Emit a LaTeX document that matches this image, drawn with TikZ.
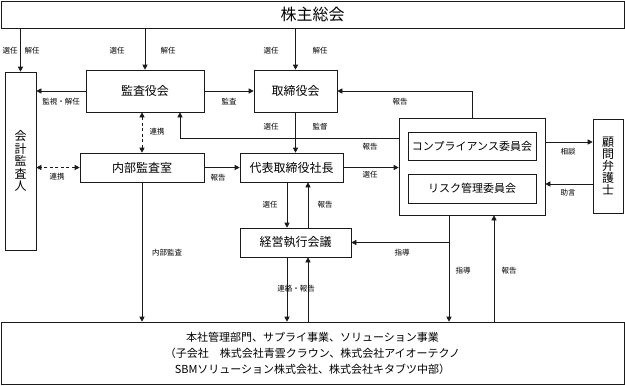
\documentclass[tikz,border=0pt]{standalone}
\usepackage{fontspec}
\setmainfont{Noto Sans CJK JP}
\usepackage{tikz}
\usetikzlibrary{arrows.meta, calc}
\definecolor{cLine}{HTML}{1A1A1A}

\begin{document}
\begin{tikzpicture}[x=1pt, y=-1pt,
    box/.style={draw=cLine, line width=0.6pt, inner sep=0pt, align=center,
                font=\fontsize{12}{14}\selectfont},
    lbl/.style={inner sep=0pt, font=\fontsize{7.5}{9}\selectfont},
    link/.style={draw=cLine, line width=0.6pt},
    arr/.style={link, -{Triangle[length=5pt, width=5pt]}},
    both/.style={link, dash pattern=on 3pt off 2.5pt,
                 {Triangle[length=5pt, width=5pt]}-{Triangle[length=5pt, width=5pt]}}]
  \useasboundingbox (0,0) rectangle (625,386);

  % Shareholders meeting
  \node[box, minimum width=623pt, minimum height=27pt,
        font=\fontsize{16}{18}\selectfont] (soukai) at (312.5,14.5) {株主総会};
  % Accounting auditor (vertical text)
  \node[box, minimum width=31pt, minimum height=178pt,
        font=\fontsize{12}{12.5}\selectfont] (kaikei) at (20.5,161) {会\\計\\監\\査\\人};
  % Boards
  \node[box, minimum width=118pt, minimum height=42pt] (kansa) at (145,91) {監査役会};
  \node[box, minimum width=83pt, minimum height=42pt] (torishimari) at (295.5,91) {取締役会};
  \node[box, minimum width=124pt, minimum height=29pt] (naibu) at (142,167.5) {内部監査室};
  \node[box, minimum width=103pt, minimum height=29pt] (daihyo) at (291.5,167.5) {代表取締役社長};
  \node[box, minimum width=111pt, minimum height=29pt] (keiei) at (295.5,242.5) {経営執行会議};
  % Committees
  \node[box, minimum width=146pt, minimum height=97pt] (iinkai) at (472,166.5) {};
  \node[box, minimum width=128pt, minimum height=28pt,
        font=\fontsize{11}{13}\selectfont] (comp) at (472,146) {コンプライアンス委員会};
  \node[box, minimum width=128pt, minimum height=29pt,
        font=\fontsize{11}{13}\selectfont] (risk) at (472,188.5) {リスク管理委員会};
  % Legal advisor (vertical text)
  \node[box, minimum width=30pt, minimum height=94pt,
        font=\fontsize{12}{12}\selectfont] (komon) at (608,166) {顧\\問\\弁\\護\\士};
  % Business units
  \node[box, minimum width=623pt, minimum height=62pt,
        font=\fontsize{11}{16}\selectfont] (jigyo) at (312.5,353)
       {本社管理部門、サプライ事業、ソリューション事業\\
        （子会社　株式会社青雲クラウン、株式会社アイオーテクノ\\
        SBMソリューション株式会社、株式会社キタブツ中部）};

  % Connectors from the top
  \draw[arr] (soukai.south -| kaikei.north) -- (kaikei.north);
  \draw[arr] (soukai.south -| kansa.north) -- (kansa.north);
  \draw[arr] (soukai.south -| torishimari.north) -- (torishimari.north);
  \draw[arr] (kansa.west) -- (kansa.west -| kaikei.east);
  \draw[arr] (kansa.east) -- (torishimari.west);
  \draw[arr] (iinkai.north) |- (torishimari.east);
  \draw[arr] ([yshift=28.5pt]iinkai.west) -| ([xshift=35pt]kansa.south);
  \draw[arr] (torishimari.south) -- (torishimari.south |- daihyo.north);
  % Middle row
  \draw[both] (naibu.north |- kansa.south) -- (naibu.north);
  \draw[both] (naibu.west) -- (naibu.west -| kaikei.east);
  \draw[arr] (naibu.east) -- (daihyo.west);
  \draw[arr] (daihyo.east) -- (daihyo.east -| iinkai.west);
  \draw[arr] ([yshift=24.5pt]iinkai.east) -- ([yshift=24.5pt]iinkai.east -| komon.west);
  \draw[arr] ([yshift=-17.5pt]iinkai.east -| komon.west) -- ([yshift=-17.5pt]iinkai.east);
  % Executive meeting
  \draw[arr] ([xshift=-4.5pt]daihyo.south) -- ([xshift=-4.5pt]daihyo.south |- keiei.north);
  \draw[arr] ([xshift=12.5pt]keiei.north) -- ([xshift=12.5pt]keiei.north |- daihyo.south);
  \draw[arr] ([xshift=-23pt]iinkai.south) |- (keiei.east);
  % Down to business units
  \draw[arr] (naibu.south) -- (naibu.south |- jigyo.north);
  \draw[arr] ([xshift=-8.5pt]keiei.south) -- ([xshift=-8.5pt]keiei.south |- jigyo.north);
  \draw[arr] ([xshift=12.5pt]keiei.south |- jigyo.north) -- ([xshift=12.5pt]keiei.south);
  \draw[arr] ([xshift=-23pt]iinkai.south) -- ([xshift=-23pt]iinkai.south |- jigyo.north);
  \draw[arr] ([xshift=22pt]iinkai.south |- jigyo.north) -- ([xshift=22pt]iinkai.south);

  % Labels
  \node[lbl] (lSenKai) at (10,51) {選任};
  \node[lbl] (lKaiKai) at (32,51) {解任};
  \node[lbl] (lSenKan) at (117,51) {選任};
  \node[lbl] (lKaiKan) at (168,51) {解任};
  \node[lbl] (lSenTor) at (271,51) {選任};
  \node[lbl] (lKaiTor) at (320,51) {解任};
  \node[lbl] (lKanshi) at (61,102) {監視・解任};
  \node[lbl] (lKansa) at (229,102) {監査};
  \node[lbl] (lHouTor) at (400,102) {報告};
  \node[lbl] (lRenKan) at (157,132) {連携};
  \node[lbl] (lSenDai) at (271,127) {選任};
  \node[lbl] (lKantoku) at (320,127) {監督};
  \node[lbl] (lHouKan) at (370,147) {報告};
  \node[lbl] (lRenKai) at (57,177) {連携};
  \node[lbl] (lHouNai) at (218,178) {報告};
  \node[lbl] (lSenIin) at (370,175) {選任};
  \node[lbl] (lSoudan) at (568,152) {相談};
  \node[lbl] (lJogen) at (568,193) {助言};
  \node[lbl] (lSenKei) at (270,205) {選任};
  \node[lbl] (lHouKei) at (325,205) {報告};
  \node[lbl] (lShidoA) at (402,253) {指導};
  \node[lbl] (lNaibu) at (167,253) {内部監査};
  \node[lbl] (lRenraku) at (296,289) {連絡・報告};
  \node[lbl] (lShidoB) at (463,271) {指導};
  \node[lbl] (lHouJi) at (509,271) {報告};
\end{tikzpicture}
\end{document}
